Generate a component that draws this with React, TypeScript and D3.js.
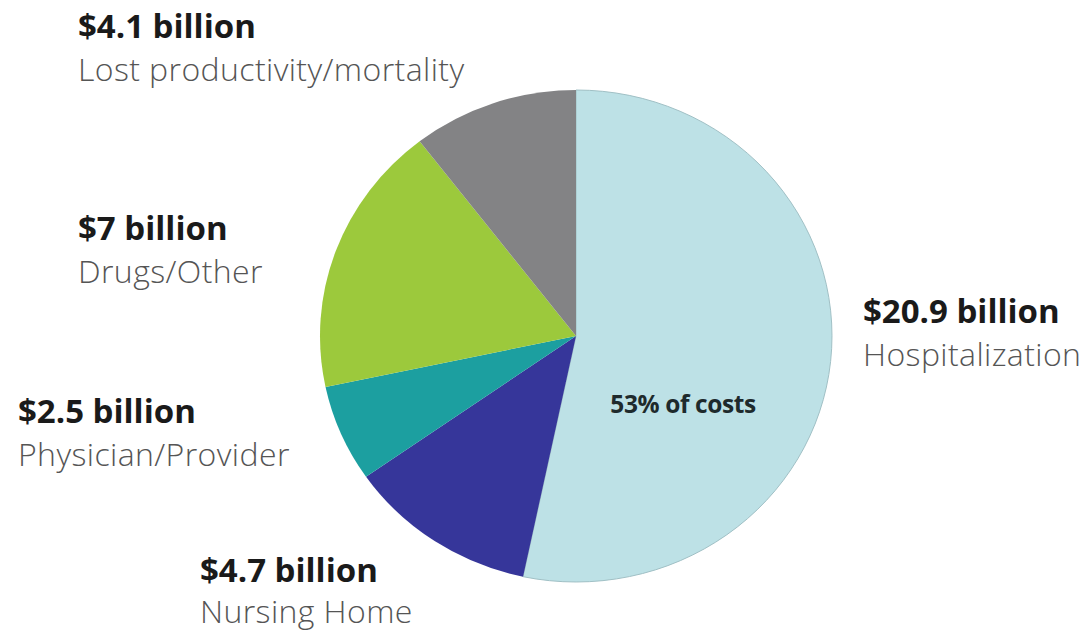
import React from "react";
import * as d3 from "d3";

const categories = [
  "Hospitalization",
  "Nursing Home",
  "Physician/Provider",
  "Drugs/Other",
  "Lost productivity/mortality",
];
const values = [20.9, 4.7, 2.5, 7, 4.1];
const colors = ["#bde1e6", "#36369a", "#1c9fa0", "#9cc93c", "#838385"];
const centerNote = "53% of costs";

// label layout (left x, baseline y of first line, gap to second line)
const labelPos: Record<string, [number, number, number]> = {
  "Hospitalization": [863, 323, 43],
  "Nursing Home": [200, 582, 41],
  "Physician/Provider": [18, 423, 43],
  "Drugs/Other": [78, 240, 43],
  "Lost productivity/mortality": [78, 38, 43],
};

const W = 1086;
const H = 633;
const cx = 576;
const cy = 336;
const rx = 256;
const ry = 246;

export default function App() {
  const data = categories.map((c, i) => ({ name: c, value: values[i], color: colors[i] }));
  const pie = d3.pie<any>().value((d) => d.value).sort(null);
  const arcs = pie(data);
  const arc = d3.arc<any>().innerRadius(0).outerRadius(rx);

  return (
    <svg
      width={W}
      height={H}
      style={{ position: "absolute", left: 0, top: 0, background: "#fff" }}
      fontFamily="'Open Sans', 'Noto Sans', sans-serif"
    >
      <g transform={`translate(${cx},${cy}) scale(1,${ry / rx})`}>
        {arcs.map((a, i) => (
          <path key={i} d={arc(a) as string} fill={a.data.color} stroke={i === 0 ? "#9fbfc4" : "none"} strokeWidth={1} />
        ))}
      </g>
      <text x={683} y={413} textAnchor="middle" fontSize={24.5} fontWeight={700} fill="#1e2a2c" letterSpacing={-0.4}>
        {centerNote}
      </text>
      {data.map((d) => {
        const [x, y, gap] = labelPos[d.name];
        return (
          <g key={d.name}>
            <text x={x} y={y} fontSize={33} fontWeight={700} fill="#1a1a1a">
              {`$${d.value} billion`}
            </text>
            <text x={x} y={y + gap} fontSize={32} fontWeight={300} fill="#555555" letterSpacing={0.4}>
              {d.name}
            </text>
          </g>
        );
      })}
    </svg>
  );
}
